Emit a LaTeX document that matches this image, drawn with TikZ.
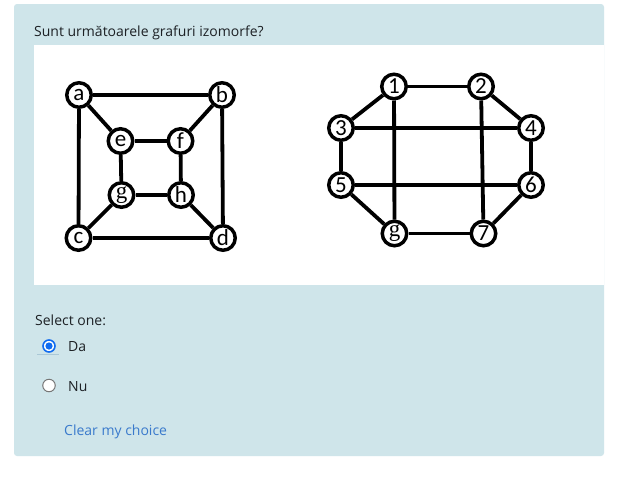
\documentclass[tikz,border=0pt]{standalone}
\usepackage{fontspec}
\newfontfamily\ui{Open Sans}
\newfontfamily\carlito{Carlito}
\newfontfamily\serifg{Liberation Serif}
\definecolor{boxblue}{RGB}{207,229,234}
\definecolor{txt}{RGB}{29,33,37}
\definecolor{linkblue}{RGB}{58,122,204}
\definecolor{radioblue}{RGB}{16,108,240}
\definecolor{radiogray}{RGB}{118,118,118}
\definecolor{ulcol}{RGB}{170,200,214}
\begin{document}
\begin{tikzpicture}[x=1pt,y=-1pt,
  vtx/.style={circle, draw, line width=3.5pt, minimum size=24.5pt, inner sep=0pt, fill=white,
    font=\carlito\fontsize{23}{23}\selectfont},
  gvtx/.style={vtx, font=\serifg\fontsize{23}{23}\selectfont},
  edge/.style={line width=3.8pt},
  uitext/.style={anchor=base west, inner sep=0pt, text=txt, font=\ui\fontsize{14}{16}\selectfont}]
\useasboundingbox (0,0) rectangle (617,477);
\fill[white] (0,0) rectangle (617,477);
\fill[boxblue, rounded corners=3pt] (14,4) rectangle (604,456);
\fill[white] (34,45) rectangle (604,285);
\node[uitext] (title) at (34,36.5) {Sunt următoarele grafuri izomorfe?};
% left graph
\node[vtx] (a) at (79,95) {a};
\node[vtx] (b) at (222,95) {b};
\node[vtx] (e) at (120.5,141) {e};
\node[vtx] (f) at (180.5,141) {f};
\node[gvtx] (g) at (121.5,195) {g};
\node[vtx] (h) at (181,195) {h};
\node[vtx] (c) at (78.5,238) {c};
\node[vtx] (d) at (223,238) {d};
\foreach \u/\v in {a/b,a/c,a/e,b/d,b/f,e/f,e/g,f/h,g/h,g/c,h/d,c/d}
  \draw[edge] (\u) -- (\v);
% right graph
\node[vtx] (n1) at (394,86.5) {1};
\node[vtx] (n2) at (481,86.5) {2};
\node[vtx] (n3) at (341,128) {3};
\node[vtx] (n4) at (531,128) {4};
\node[vtx] (n5) at (341,185) {5};
\node[vtx] (n6) at (531,185) {6};
\node[gvtx] (ng) at (394.5,233.5) {g};
\node[vtx] (n7) at (483.5,233.5) {7};
\foreach \u/\v in {n1/n3,n1/ng,n2/n4,n2/n7,n3/n4,n3/n5,n4/n6,n5/n6,n5/ng,n6/n7}
  \draw[edge] (\u) -- (\v);
\draw[line width=3pt] (n1) -- (n2);
\draw[line width=3pt] (ng) -- (n7);
% answers
\node[uitext] (sel) at (35,325) {Select one:};
\node[circle, draw=radioblue, line width=1.6pt, fill=white, minimum size=12pt, inner sep=0pt] (r1) at (49,346) {};
\fill[radioblue] (r1.center) circle (3.6pt);
\draw[ulcol, line width=0.8pt] (37,354.5) -- (59,354.5);
\node[uitext] (da) at (68,351) {Da};
\node[circle, draw=radiogray, line width=1pt, fill=white, minimum size=12.5pt, inner sep=0pt] (r2) at (49,385.5) {};
\node[uitext] (nu) at (68,391.5) {Nu};
\node[uitext, text=linkblue] (clear) at (64,435.5) {Clear my choice};
\end{tikzpicture}
\end{document}
